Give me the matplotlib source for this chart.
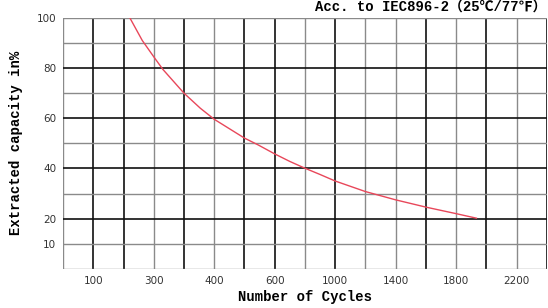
import numpy as np
import matplotlib
matplotlib.use("Agg")
import matplotlib.pyplot as plt

# curve
cycles = [221, 262, 300, 315, 350, 377, 400, 500, 545, 600, 700, 800, 900, 1000, 1200, 1400, 1600, 1800, 1934]
capacity = [100, 91, 84.5, 79.5, 70, 64, 59.6, 52.1, 49.4, 45.8, 42.8, 40.1, 37.6, 35.0, 30.8, 27.5, 24.6, 22.0, 20.2]

# the x axis is not linear: each grid column covers these cycle values
col_cycles = [0, 100, 200, 300, 350, 400, 500, 600, 800, 1000, 1200, 1400, 1600, 1800, 2000, 2200, 2400]
x_ticks = [100, 300, 400, 600, 1000, 1400, 1800, 2200]
y_ticks = [10, 20, 40, 60, 80, 100]
heavy_x = [100, 200, 350, 500, 600, 1000, 1600, 2000, 2400]
heavy_y = [20, 40, 60, 80]

cols = np.arange(len(col_cycles))


def fwd(x):
    return np.interp(x, col_cycles, cols)


def inv(x):
    return np.interp(x, cols, col_cycles)


mono = ["Liberation Mono", "Noto Sans CJK SC", "DejaVu Sans"]

fig = plt.figure(figsize=(5.48, 3.08), dpi=100)
ax = fig.add_axes([0.115, 0.127, 0.883, 0.815])
ax.set_xscale("function", functions=(fwd, inv))
ax.set_xlim(0, 2400)
ax.set_ylim(0, 100)

# grid
for c in col_cycles:
    if c in heavy_x:
        ax.axvline(c, color="#111111", lw=1.2, zorder=1)
    else:
        ax.axvline(c, color="#8a8a8a", lw=1.0, zorder=1)
for v in range(0, 101, 10):
    if v in heavy_y:
        ax.axhline(v, color="#111111", lw=1.2, zorder=1)
    else:
        ax.axhline(v, color="#8a8a8a", lw=1.0, zorder=1)

ax.plot(cycles, capacity, color="#e8475a", lw=1.0, zorder=3)

for s in ax.spines.values():
    s.set_visible(False)

ax.set_xticks(x_ticks)
ax.set_xticklabels([str(t) for t in x_ticks])
ax.set_yticks(y_ticks)
ax.set_yticklabels([str(t) for t in y_ticks])
ax.minorticks_off()
ax.tick_params(length=0, labelsize=7.5, labelcolor="#333333", pad=5)
for lab in ax.get_xticklabels() + ax.get_yticklabels():
    lab.set_family("DejaVu Sans")

ax.set_xlabel("Number of Cycles", fontsize=10, fontweight="bold", family=mono, labelpad=3)
ax.set_ylabel("Extracted capacity in%", fontsize=10, fontweight="bold", family=mono, labelpad=10)

fig.text(0.997, 0.952, "Acc. to IEC896-2（25℃/77℉）", ha="right", va="bottom",
         fontsize=10, fontweight="bold", family=mono)

fig.savefig("out.png", dpi=100)
